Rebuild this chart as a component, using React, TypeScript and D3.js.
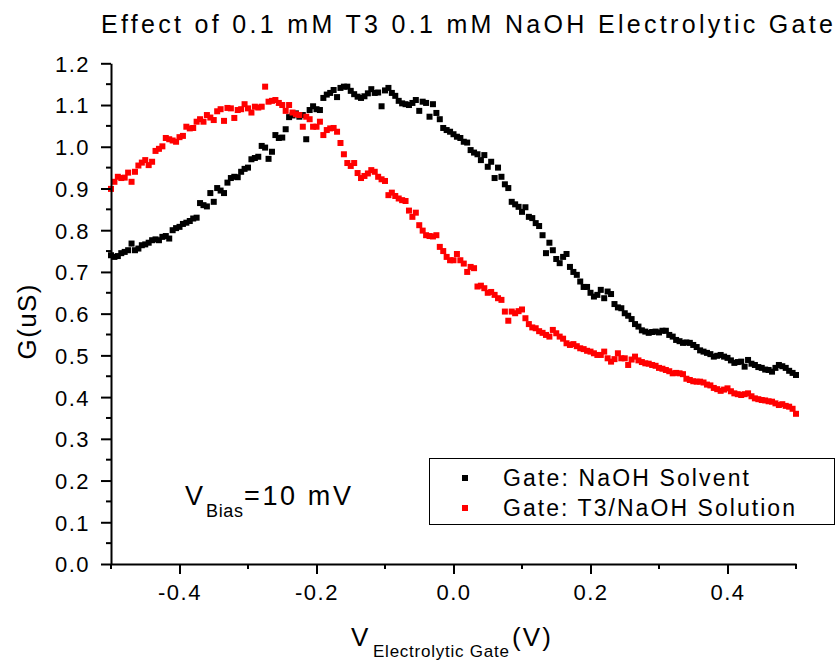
import React, { useEffect, useRef } from "react";
import * as d3 from "d3";

// gate voltage sweep, -0.5 V to 0.5 V in 5 mV steps
const vGate: number[] = d3.range(201).map((i) => +(-0.5 + i * 0.005).toFixed(3));

// Gate: NaOH Solvent (uS)
const gNaOH: number[] = [
  0.740, 0.736, 0.738, 0.745, 0.748, 0.752, 0.768, 0.752, 0.756, 0.764,
  0.766, 0.770, 0.776, 0.778, 0.776, 0.784, 0.786, 0.780, 0.800, 0.805,
  0.808, 0.815, 0.818, 0.822, 0.828, 0.830, 0.865, 0.860, 0.857, 0.889,
  0.868, 0.901, 0.895, 0.889, 0.914, 0.925, 0.928, 0.927, 0.940, 0.947,
  0.950, 0.970, 0.973, 0.976, 1.002, 0.998, 0.971, 0.988, 1.028, 1.021,
  1.022, 1.042, 1.071, 1.075, 1.080, 1.072, 1.076, 1.018, 1.088, 1.097,
  1.090, 1.088, 1.117, 1.125, 1.129, 1.136, 1.119, 1.141, 1.144, 1.144,
  1.134, 1.126, 1.120, 1.117, 1.121, 1.128, 1.138, 1.129, 1.130, 1.097,
  1.135, 1.141, 1.129, 1.122, 1.110, 1.104, 1.102, 1.100, 1.105, 1.112,
  1.086, 1.108, 1.105, 1.072, 1.102, 1.081, 1.066, 1.045, 1.040, 1.036,
  1.030, 1.024, 1.021, 1.012, 1.010, 0.992, 0.986, 0.982, 0.968, 0.980,
  0.952, 0.964, 0.925, 0.950, 0.928, 0.910, 0.901, 0.868, 0.862, 0.856,
  0.844, 0.855, 0.832, 0.829, 0.817, 0.810, 0.788, 0.745, 0.770, 0.752,
  0.731, 0.721, 0.736, 0.743, 0.712, 0.700, 0.693, 0.677, 0.664, 0.664,
  0.650, 0.641, 0.645, 0.657, 0.637, 0.653, 0.647, 0.623, 0.615, 0.613,
  0.601, 0.595, 0.587, 0.575, 0.569, 0.560, 0.557, 0.554, 0.556, 0.557,
  0.555, 0.559, 0.559, 0.549, 0.545, 0.537, 0.534, 0.530, 0.531, 0.530,
  0.525, 0.520, 0.512, 0.509, 0.506, 0.503, 0.497, 0.499, 0.501, 0.497,
  0.494, 0.488, 0.482, 0.484, 0.485, 0.473, 0.489, 0.480, 0.477, 0.472,
  0.470, 0.466, 0.465, 0.461, 0.470, 0.477, 0.474, 0.470, 0.463, 0.458,
  0.453,
];

// Gate: T3/NaOH Solution (uS)
const gT3: number[] = [
  0.899, 0.916, 0.928, 0.925, 0.926, 0.938, 0.916, 0.940, 0.955, 0.962,
  0.968, 0.956, 0.964, 0.990, 0.995, 1.001, 1.021, 1.018, 1.015, 1.012,
  1.023, 1.026, 1.048, 1.044, 1.045, 1.060, 1.066, 1.060, 1.076, 1.070,
  1.064, 1.085, 1.090, 1.062, 1.093, 1.092, 1.069, 1.088, 1.090, 1.102,
  1.092, 1.082, 1.096, 1.094, 1.096, 1.144, 1.108, 1.110, 1.112, 1.105,
  1.100, 1.086, 1.100, 1.082, 1.078, 1.076, 1.048, 1.072, 1.066, 1.048,
  1.048, 1.060, 1.028, 1.040, 1.044, 1.045, 1.036, 1.009, 0.982, 0.961,
  0.954, 0.961, 0.937, 0.925, 0.930, 0.936, 0.944, 0.940, 0.928, 0.922,
  0.918, 0.884, 0.890, 0.882, 0.876, 0.872, 0.870, 0.847, 0.832, 0.842,
  0.812, 0.799, 0.788, 0.786, 0.785, 0.788, 0.760, 0.750, 0.736, 0.728,
  0.728, 0.743, 0.728, 0.720, 0.700, 0.712, 0.709, 0.665, 0.667, 0.661,
  0.650, 0.652, 0.645, 0.637, 0.633, 0.605, 0.583, 0.605, 0.601, 0.606,
  0.610, 0.589, 0.575, 0.567, 0.565, 0.558, 0.554, 0.549, 0.545, 0.561,
  0.553, 0.545, 0.540, 0.529, 0.525, 0.527, 0.522, 0.517, 0.515, 0.511,
  0.509, 0.505, 0.501, 0.501, 0.509, 0.493, 0.485, 0.491, 0.505, 0.493,
  0.493, 0.477, 0.490, 0.497, 0.488, 0.484, 0.481, 0.480, 0.477, 0.475,
  0.470, 0.468, 0.465, 0.462, 0.457, 0.458, 0.457, 0.455, 0.444, 0.441,
  0.438, 0.437, 0.437, 0.435, 0.430, 0.428, 0.422, 0.419, 0.415, 0.418,
  0.421, 0.414, 0.409, 0.407, 0.405, 0.407, 0.409, 0.402, 0.397, 0.395,
  0.393, 0.392, 0.390, 0.389, 0.385, 0.381, 0.383, 0.379, 0.377, 0.372,
  0.360,
];

const seriesNames = ["Gate: NaOH Solvent", "Gate: T3/NaOH Solution"];
const seriesColors = ["#000000", "#ff0000"];

const xMajorTicks = [-0.4, -0.2, 0.0, 0.2, 0.4];
const xMinorTicks = [-0.5, -0.3, -0.1, 0.1, 0.3, 0.5];
const yMajorTicks = [0.0, 0.1, 0.2, 0.3, 0.4, 0.5, 0.6, 0.7, 0.8, 0.9, 1.0, 1.1, 1.2];
const yMinorTicks = [0.05, 0.15, 0.25, 0.35, 0.45, 0.55, 0.65, 0.75, 0.85, 0.95, 1.05, 1.15];

const FONT = "'Liberation Sans', Arial, Helvetica, sans-serif";

const App = () => {
  const chartRef = useRef<HTMLDivElement>(null);

  useEffect(() => {
    drawChart();
  }, []);

  const drawChart = () => {
    const width = 836,
      height = 661;

    d3.select(chartRef.current).selectAll("*").remove();

    const svg = d3
      .select(chartRef.current)
      .append("svg")
      .attr("width", width)
      .attr("height", height)
      .style("display", "block")
      .style("background", "#fff")
      .style("font-family", FONT);

    const x = d3.scaleLinear().domain([-0.5, 0.5]).range([111, 796]);
    const y = d3.scaleLinear().domain([0, 1.2]).range([564, 63.3]);

    // title
    svg.append("text")
      .attr("x", 101)
      .attr("y", 33)
      .attr("textLength", 732)
      .attr("lengthAdjust", "spacing")
      .style("font-size", "25px")
      .text("Effect of 0.1 mM T3 0.1 mM NaOH Electrolytic Gate");

    // data points
    const series = [gNaOH, gT3];
    series.forEach((vals, si) => {
      svg.append("g")
        .selectAll("rect")
        .data(vals)
        .join("rect")
        .attr("x", (d, i) => x(vGate[i]) - 3)
        .attr("y", (d) => y(d) - 3)
        .attr("width", 6)
        .attr("height", 6)
        .attr("fill", seriesColors[si]);
    });

    // x axis
    const xAxis = svg.append("g")
      .attr("transform", `translate(0,${y(0)})`)
      .call(d3.axisBottom(x).tickValues(xMajorTicks).tickSize(10).tickSizeOuter(0)
        .tickFormat((d) => (d as number).toFixed(1)));
    xAxis.call((g) => g.select(".domain").attr("stroke-width", 2));
    xAxis.selectAll(".tick line").attr("stroke-width", 2);
    xAxis.selectAll("text")
      .attr("y", 36)
      .attr("dy", 0)
      .style("font-size", "22px")
      .style("letter-spacing", "1.5px")
      .style("font-family", FONT);
    svg.append("g")
      .selectAll("line")
      .data(xMinorTicks)
      .join("line")
      .attr("x1", (d) => x(d))
      .attr("x2", (d) => x(d))
      .attr("y1", y(0))
      .attr("y2", y(0) + 5)
      .attr("stroke", "#000")
      .attr("stroke-width", 2);

    // y axis
    const yAxis = svg.append("g")
      .attr("transform", `translate(${x(-0.5)},0)`)
      .call(d3.axisLeft(y).tickValues(yMajorTicks).tickSize(10).tickSizeOuter(0)
        .tickFormat((d) => (d as number).toFixed(1)));
    yAxis.call((g) => g.select(".domain").attr("stroke-width", 2));
    yAxis.selectAll(".tick line").attr("stroke-width", 2);
    yAxis.selectAll("text")
      .attr("x", -21)
      .attr("dy", "0.36em")
      .style("font-size", "22px")
      .style("letter-spacing", "1.5px")
      .style("font-family", FONT);
    svg.append("g")
      .selectAll("line")
      .data(yMinorTicks)
      .join("line")
      .attr("x1", x(-0.5) - 5)
      .attr("x2", x(-0.5))
      .attr("y1", (d) => y(d))
      .attr("y2", (d) => y(d))
      .attr("stroke", "#000")
      .attr("stroke-width", 2);

    // y label
    svg.append("text")
      .attr("transform", "translate(36,322) rotate(-90)")
      .attr("text-anchor", "middle")
      .attr("textLength", 75)
      .style("font-size", "26px")
      .text("G(uS)");

    // x label
    const xl = svg.append("text").attr("y", 646).style("font-size", "26px");
    xl.append("tspan").attr("x", 351).text("V");
    xl.append("tspan").attr("x", 373).attr("y", 657).style("font-size", "17px")
      .attr("textLength", 136).text("Electrolytic Gate");
    xl.append("tspan").attr("x", 512).attr("y", 646).attr("textLength", 39).text("(V)");

    // V bias annotation
    const vb = svg.append("text").attr("y", 505).style("font-size", "27px");
    vb.append("tspan").attr("x", 185).text("V");
    vb.append("tspan").attr("x", 206).attr("y", 517).style("font-size", "18px")
      .attr("textLength", 37).text("Bias");
    vb.append("tspan").attr("x", 244).attr("y", 505).attr("textLength", 107).text("=10 mV");

    // legend
    const legend = svg.append("g");
    legend.append("rect")
      .attr("x", 429.5)
      .attr("y", 458.5)
      .attr("width", 405)
      .attr("height", 66)
      .attr("fill", "none")
      .attr("stroke", "#000")
      .attr("stroke-width", 1);
    const legendLen = [246, 292];
    seriesNames.forEach((name, i) => {
      const cy = 478 + i * 30;
      legend.append("rect")
        .attr("x", 462)
        .attr("y", cy - 3)
        .attr("width", 6)
        .attr("height", 6)
        .attr("fill", seriesColors[i]);
      legend.append("text")
        .attr("x", 503)
        .attr("y", cy + 8)
        .attr("textLength", legendLen[i])
        .style("font-size", "23px")
        .text(name);
    });
  };

  return (
    <div style={{ position: "absolute", left: 0, top: 0 }}>
      <div ref={chartRef} />
    </div>
  );
};

export default App;
